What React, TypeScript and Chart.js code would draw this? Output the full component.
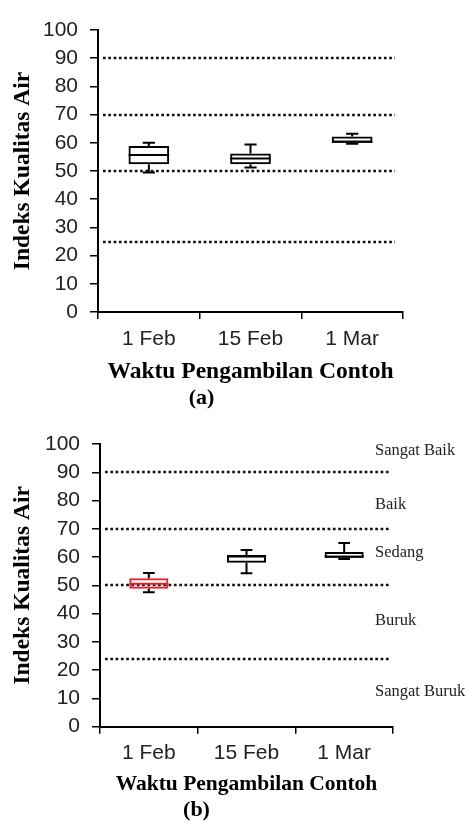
import React, { useEffect, useRef } from 'react';
import { Chart, registerables } from 'chart.js';
Chart.register(...registerables);

// ---- data ----
const categories = ['1 Feb', '15 Feb', '1 Mar'];

// Panel (a)
const aMin = [49.5, 51.2, 59.7];
const aQ1 = [52.4, 52.4, 60.0];
const aMedian = [55.7, 54.4, 60.4];
const aQ3 = [58.9, 56.2, 62.2];
const aMax = [60.0, 59.4, 63.2];
const aRefLines = [90, 70, 50, 25];
const aBoxColors = ['#000000', '#000000', '#000000'];

// Panel (b)
const bMin = [47.6, 54.3, 59.3];
const bQ1 = [48.8, 58.0, 59.8];
const bMedian = [50.6, 60.2, 60.1];
const bQ3 = [52.5, 60.7, 61.8];
const bMax = [54.4, 62.5, 65.0];
const bRefLines = [90, 70, 50, 24];
const bBoxColors = ['#e8202a', '#000000', '#000000'];
const bClassNames = ['Sangat Baik', 'Baik', 'Sedang', 'Buruk', 'Sangat Buruk'];
const bClassValues = [97.5, 78.5, 61.5, 37.5, 12.5];

const yTitle = 'Indeks Kualitas Air';
const xTitle = 'Waktu Pengambilan Contoh';

type PanelProps = {
  min: number[]; q1: number[]; median: number[]; q3: number[]; max: number[];
  refLines: number[]; boxColors: string[]; caption: string;
  classNames?: string[]; classValues?: number[];
  padTop: number; padRight: number; yWidth: number; xHeight: number;
  tickPad: number; top: number; lineEndInset: number; xTitleSize: number;
};

const W = 467;
const H = 412;
const serif = '"Liberation Serif", "Times New Roman", serif';
const sans = '"Liberation Sans", Arial, sans-serif';

function Panel(p: PanelProps) {
  const ref = useRef<HTMLCanvasElement | null>(null);
  useEffect(() => {
    if (!ref.current) return;
    const refLinePlugin = {
      id: 'refLines',
      beforeDatasetsDraw(chart: any) {
        const { ctx, chartArea } = chart;
        const y = chart.scales.y;
        ctx.save();
        ctx.strokeStyle = '#111';
        ctx.lineWidth = 2.6;
        ctx.setLineDash([2.7, 2.6]);
        p.refLines.forEach((v) => {
          const py = Math.round(y.getPixelForValue(v));
          ctx.beginPath();
          ctx.moveTo(chartArea.left + 5, py);
          ctx.lineTo(chartArea.right - p.lineEndInset, py);
          ctx.stroke();
        });
        ctx.restore();
      },
    };
    const whiskerPlugin = {
      id: 'whiskers',
      afterDatasetsDraw(chart: any) {
        const { ctx } = chart;
        const y = chart.scales.y;
        const meta = chart.getDatasetMeta(0);
        ctx.save();
        ctx.lineWidth = 2;
        meta.data.forEach((el: any, i: number) => {
          const { x, width } = el.getProps(['x', 'width'], true);
          const cap = width * 0.3;
          const yMin = y.getPixelForValue(p.min[i]);
          const yQ1 = y.getPixelForValue(p.q1[i]);
          const yMed = y.getPixelForValue(p.median[i]);
          const yQ3 = y.getPixelForValue(p.q3[i]);
          const yMax = y.getPixelForValue(p.max[i]);
          ctx.strokeStyle = '#000';
          ctx.beginPath();
          ctx.moveTo(x, yQ3); ctx.lineTo(x, yMax);
          ctx.moveTo(x - cap / 2, yMax); ctx.lineTo(x + cap / 2, yMax);
          ctx.moveTo(x, yQ1); ctx.lineTo(x, yMin);
          ctx.moveTo(x - cap / 2, yMin); ctx.lineTo(x + cap / 2, yMin);
          ctx.stroke();
          ctx.strokeStyle = p.boxColors[i];
          ctx.beginPath();
          ctx.moveTo(x - width / 2, yMed); ctx.lineTo(x + width / 2, yMed);
          ctx.stroke();
        });
        ctx.restore();
      },
    };
    const classPlugin = {
      id: 'classLabels',
      afterDraw(chart: any) {
        if (!p.classNames || !p.classValues) return;
        const { ctx, chartArea } = chart;
        const y = chart.scales.y;
        ctx.save();
        ctx.fillStyle = '#222';
        ctx.font = '16.5px ' + serif;
        ctx.textAlign = 'left';
        ctx.textBaseline = 'middle';
        p.classNames.forEach((t, i) => {
          ctx.fillText(t, chartArea.right - 18, y.getPixelForValue(p.classValues![i]));
        });
        ctx.restore();
      },
    };
    const chart = new Chart(ref.current, {
      type: 'bar',
      data: {
        labels: categories,
        datasets: [
          {
            data: p.q1.map((v, i) => [v, p.q3[i]]) as any,
            backgroundColor: 'rgba(255,255,255,0)',
            borderColor: p.boxColors,
            borderWidth: 2,
            borderSkipped: false,
            barPercentage: 0.4,
            categoryPercentage: 1,
          },
        ],
      },
      options: {
        animation: false,
        responsive: false,
        devicePixelRatio: 1,
        layout: { padding: { top: p.padTop, right: p.padRight, left: 0, bottom: 0 } },
        plugins: {
          legend: { display: false },
          tooltip: { enabled: false },
          title: {
            display: true,
            position: 'bottom',
            text: p.caption,
            color: '#000',
            font: { family: serif, size: 22, weight: 'bold' },
            padding: 0,
          },
        },
        scales: {
          x: {
            offset: true,
            grid: { display: true, offset: true, drawOnChartArea: false, drawTicks: true, tickLength: 7, color: '#000', lineWidth: 1.5 },
            border: { display: true, color: '#000', width: 2 },
            ticks: { color: '#222', padding: p.tickPad, font: { family: sans, size: 21 } },
            title: {
              display: true, text: xTitle, color: '#000',
              font: { family: serif, size: p.xTitleSize, weight: 'bold' },
              padding: { top: 0, bottom: 0 },
            },
            afterFit: (s: any) => { s.height = p.xHeight; },
          },
          y: {
            min: 0, max: 100,
            grid: { drawOnChartArea: false, drawTicks: true, tickLength: 8, color: '#000', lineWidth: 1.5 },
            border: { display: true, color: '#000', width: 2 },
            ticks: { stepSize: 10, color: '#222', padding: 12, font: { family: sans, size: 21 } },
            title: {
              display: true, text: yTitle, color: '#000',
              font: { family: serif, size: 23.5, weight: 'bold' },
              padding: { top: 9, bottom: 0 },
            },
            afterFit: (s: any) => { s.width = p.yWidth; },
          },
        },
      } as any,
      plugins: [refLinePlugin, whiskerPlugin, classPlugin],
    });
    return () => chart.destroy();
  }, []);
  return (
    <div style={{ position: 'absolute', left: 0, top: p.top, width: W, height: H }}>
      <canvas ref={ref} width={W} height={H} style={{ width: W, height: H, display: 'block' }} />
    </div>
  );
}

export default function App() {
  return (
    <div style={{ position: 'absolute', left: 0, top: 0, width: W, height: 824, background: '#fff' }}>
      <Panel min={aMin} q1={aQ1} median={aMedian} q3={aQ3} max={aMax} refLines={aRefLines}
        boxColors={aBoxColors} caption="(a)" padTop={30} padRight={64} yWidth={98} xHeight={73.6}
        tickPad={8} top={0} lineEndInset={8} xTitleSize={23.5} />
      <Panel min={bMin} q1={bQ1} median={bMedian} q3={bQ3} max={bMax} refLines={bRefLines}
        boxColors={bBoxColors} caption="(b)" classNames={bClassNames} classValues={bClassValues}
        padTop={32} padRight={74} yWidth={100} xHeight={70.9} tickPad={7} top={412} lineEndInset={2}
        xTitleSize={21.5} />
    </div>
  );
}
